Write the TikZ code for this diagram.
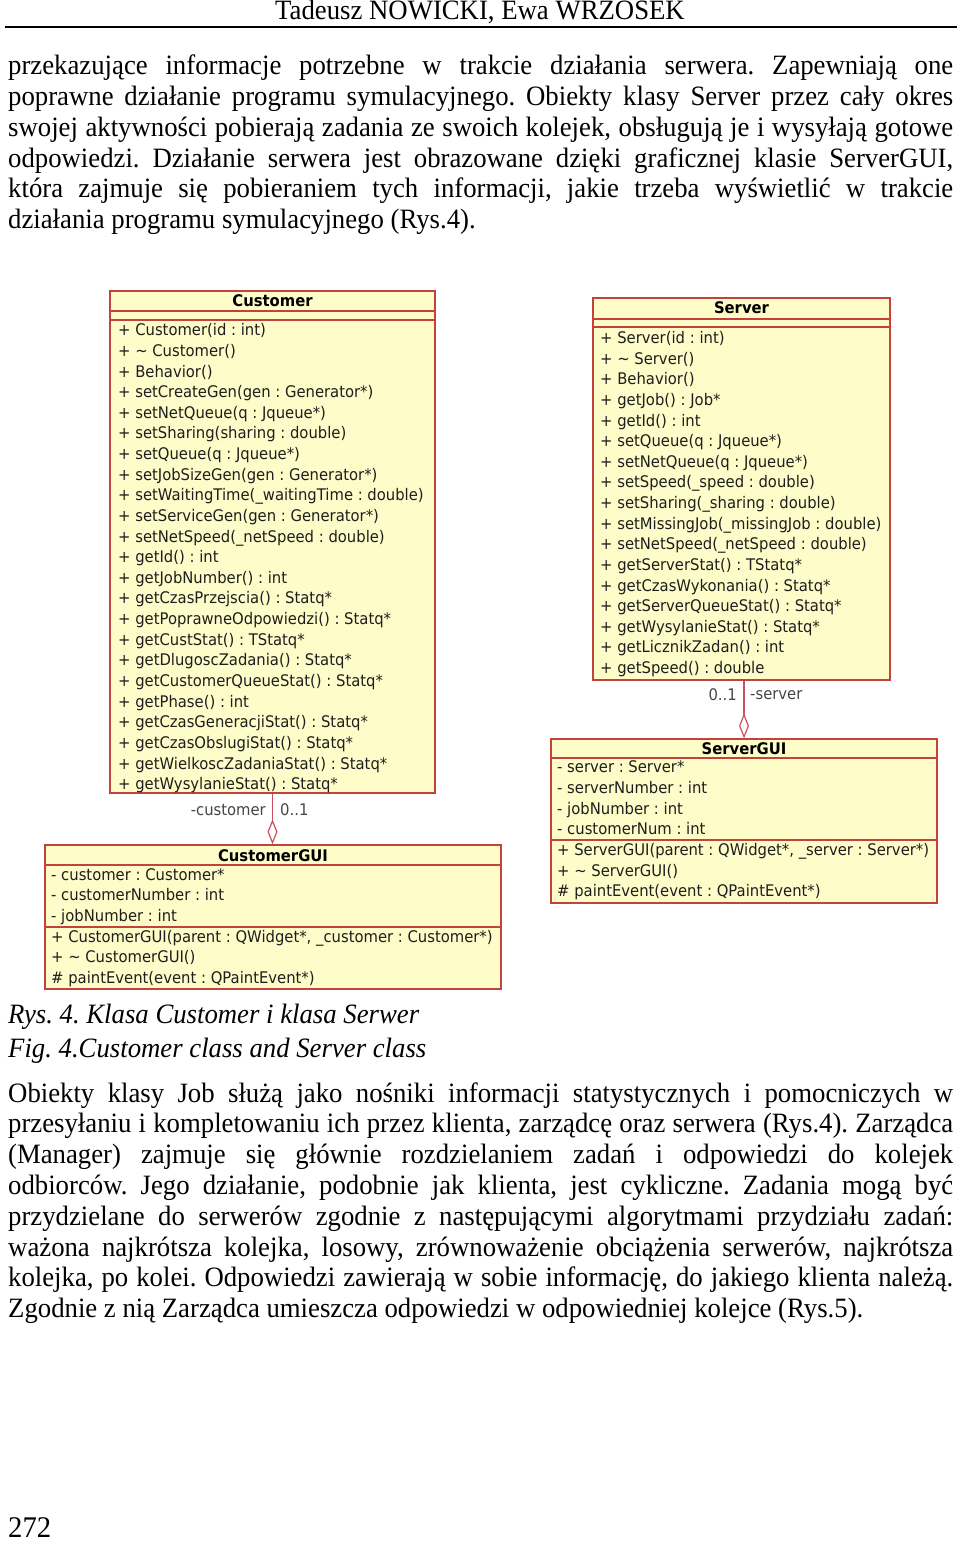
\documentclass[tikz,border=0pt]{standalone}
\usepackage{fontspec}
\setmainfont{Liberation Serif}[FakeStretch=0.955]
\newfontfamily\umlfont{DejaVu Sans}[FakeStretch=0.925]
\usetikzlibrary{arrows.meta}
\definecolor{umlfill}{RGB}{254,252,200}
\definecolor{umlline}{RGB}{196,66,60}
\definecolor{umltext}{RGB}{30,30,30}
\definecolor{assoc}{RGB}{205,80,95}
\definecolor{lbl}{RGB}{70,70,70}
\frenchspacing
\begin{document}
\begin{tikzpicture}[x=1pt,y=-1pt,
  body/.style={font=\fontsize{28}{30.8}\selectfont, inner sep=0pt, anchor=base west},
  umlt/.style={font=\umlfont\fontsize{16}{18}\selectfont, text=umltext, inner sep=0pt, anchor=mid west},
  umlname/.style={font=\umlfont\bfseries\fontsize{16}{18}\selectfont, text=black, inner sep=0pt, anchor=mid},
  umlbox/.style={draw=umlline, fill=umlfill, line width=1.3pt, inner sep=0pt},
  sep/.style={draw=umlline, line width=1.3pt},
  assocline/.style={draw=assoc, line width=1.2pt, -{Diamond[open, length=25pt, width=10pt, line width=1.2pt]}},
  rolelbl/.style={font=\umlfont\fontsize{16}{18}\selectfont, text=lbl, inner sep=0pt}
]
\useasboundingbox (0,0) rectangle (960,1544);

% header
\node[body, anchor=base] (hdr) at (480,19.5) {Tadeusz NOWICKI, Ewa WRZOSEK};
\draw[line width=2pt] (5,27) -- (957,27);

% paragraph 1
\foreach \t [count=\i from 0] in {
  {przekazujące informacje potrzebne w trakcie działania serwera. Zapewniają one},
  {poprawne działanie programu symulacyjnego. Obiekty klasy Server przez cały okres},
  {swojej aktywności pobierają zadania ze swoich kolejek, obsługują je i wysyłają gotowe},
  {odpowiedzi. Działanie serwera jest obrazowane dzięki graficznej klasie ServerGUI,},
  {która zajmuje się pobieraniem tych informacji, jakie trzeba wyświetlić w trakcie}}
  \node[body] (pa\i) at (8,75+\i*30.7) {\makebox[945pt][s]{\t}};
\node[body] (pa5) at (8,228.5) {działania programu symulacyjnego (Rys.4).};

% Customer
\node[umlbox, minimum width=325pt, minimum height=502pt] (cust) at (272.5,542) {};
\draw[sep] (110,311) -- (435,311);
\draw[sep] (110,320) -- (435,320);
\node[umlname] (custname) at (272.5,304.5) {Customer};
\foreach \t [count=\i from 0] in {
  {+ Customer(id : int)},
  {+ \textasciitilde\ Customer()},
  {+ Behavior()},
  {+ setCreateGen(gen : Generator*)},
  {+ setNetQueue(q : Jqueue*)},
  {+ setSharing(sharing : double)},
  {+ setQueue(q : Jqueue*)},
  {+ setJobSizeGen(gen : Generator*)},
  {+ setWaitingTime(\_waitingTime : double)},
  {+ setServiceGen(gen : Generator*)},
  {+ setNetSpeed(\_netSpeed : double)},
  {+ getId() : int},
  {+ getJobNumber() : int},
  {+ getCzasPrzejscia() : Statq*},
  {+ getPoprawneOdpowiedzi() : Statq*},
  {+ getCustStat() : TStatq*},
  {+ getDlugoscZadania() : Statq*},
  {+ getCustomerQueueStat() : Statq*},
  {+ getPhase() : int},
  {+ getCzasGeneracjiStat() : Statq*},
  {+ getCzasObslugiStat() : Statq*},
  {+ getWielkoscZadaniaStat() : Statq*},
  {+ getWysylanieStat() : Statq*}}
  \node[umlt] (cop\i) at (118,333.5+\i*20.63) {\t};

% Server
\node[umlbox, minimum width=297pt, minimum height=382pt] (serv) at (741.5,489) {};
\draw[sep] (593,319) -- (890,319);
\draw[sep] (593,327) -- (890,327);
\node[umlname] (servname) at (741.5,311.5) {Server};
\foreach \t [count=\i from 0] in {
  {+ Server(id : int)},
  {+ \textasciitilde\ Server()},
  {+ Behavior()},
  {+ getJob() : Job*},
  {+ getId() : int},
  {+ setQueue(q : Jqueue*)},
  {+ setNetQueue(q : Jqueue*)},
  {+ setSpeed(\_speed : double)},
  {+ setSharing(\_sharing : double)},
  {+ setMissingJob(\_missingJob : double)},
  {+ setNetSpeed(\_netSpeed : double)},
  {+ getServerStat() : TStatq*},
  {+ getCzasWykonania() : Statq*},
  {+ getServerQueueStat() : Statq*},
  {+ getWysylanieStat() : Statq*},
  {+ getLicznikZadan() : int},
  {+ getSpeed() : double}}
  \node[umlt] (sop\i) at (600,341.5+\i*20.6) {\t};

% ServerGUI
\node[umlbox, minimum width=386pt, minimum height=164pt] (sgui) at (744,821) {};
\draw[sep] (551,758) -- (937,758);
\draw[sep] (551,840) -- (937,840);
\node[umlname] (sguiname) at (744,752) {ServerGUI};
\foreach \t [count=\i from 0] in {
  {- server : Server*},
  {- serverNumber : int},
  {- jobNumber : int},
  {- customerNum : int}}
  \node[umlt] (sga\i) at (557,770.5+\i*20.6) {\t};
\foreach \t [count=\i from 0] in {
  {+ ServerGUI(parent : QWidget*, \_server : Server*)},
  {+ \textasciitilde\ ServerGUI()},
  {\# paintEvent(event : QPaintEvent*)}}
  \node[umlt] (sgo\i) at (557,853.5+\i*20.5) {\t};

% CustomerGUI
\node[umlbox, minimum width=456pt, minimum height=144pt] (cgui) at (273,917) {};
\draw[sep] (45,865) -- (501,865);
\draw[sep] (45,927) -- (501,927);
\node[umlname] (cguiname) at (273,859) {CustomerGUI};
\foreach \t [count=\i from 0] in {
  {- customer : Customer*},
  {- customerNumber : int},
  {- jobNumber : int}}
  \node[umlt] (cga\i) at (51,878+\i*20.6) {\t};
\foreach \t [count=\i from 0] in {
  {+ CustomerGUI(parent : QWidget*, \_customer : Customer*)},
  {+ \textasciitilde\ CustomerGUI()},
  {\# paintEvent(event : QPaintEvent*)}}
  \node[umlt] (cgo\i) at (51,940+\i*20.5) {\t};

% associations
\draw[assocline] (cust.south) -- (cust.south |- cgui.north);
\draw[assocline] (serv.south -| sgui.north) -- (sgui.north);
\node[rolelbl, anchor=east] (custrole) at (266,810) {-customer};
\node[rolelbl, anchor=west] (custmult) at (280,810) {0..1};
\node[rolelbl, anchor=east] (servmult) at (737,695) {0..1};
\node[rolelbl, anchor=west] (servrole) at (750,695) {-server};

% captions
\node[body, font=\fontsize{28}{30.8}\selectfont\itshape] (cap1) at (8,1023) {Rys. 4. Klasa Customer i klasa Serwer};
\node[body, font=\fontsize{28}{30.8}\selectfont\itshape] (cap2) at (8,1057) {Fig. 4.Customer class and Server class};

% paragraph 2
\foreach \t [count=\i from 0] in {
  {Obiekty klasy Job służą jako nośniki informacji statystycznych i pomocniczych w},
  {przesyłaniu i kompletowaniu ich przez klienta, zarządcę oraz serwera (Rys.4). Zarządca},
  {(Manager) zajmuje się głównie rozdzielaniem zadań i odpowiedzi do kolejek},
  {odbiorców. Jego działanie, podobnie jak klienta, jest cykliczne. Zadania mogą być},
  {przydzielane do serwerów zgodnie z następującymi algorytmami przydziału zadań:},
  {ważona najkrótsza kolejka, losowy, zrównoważenie obciążenia serwerów, najkrótsza},
  {kolejka, po kolei. Odpowiedzi zawierają w sobie informację, do jakiego klienta należą.}}
  \node[body] (pb\i) at (8,1102+\i*30.8) {\makebox[945pt][s]{\t}};
\node[body] (pb7) at (8,1317.5) {Zgodnie z nią Zarządca umieszcza odpowiedzi w odpowiedniej kolejce (Rys.5).};

% page number
\node[body, font=\fontsize{30}{34}\selectfont] (pnum) at (8,1537.5) {272};
\end{tikzpicture}
\end{document}
